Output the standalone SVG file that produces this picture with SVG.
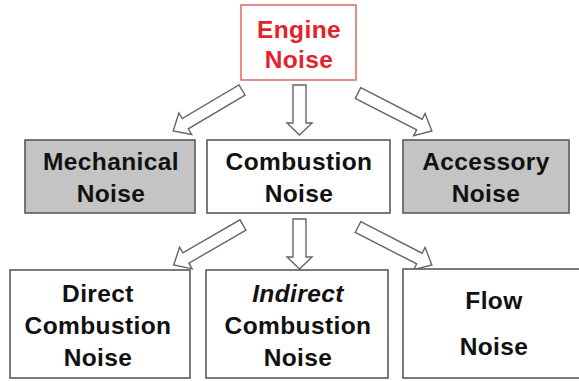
<svg xmlns="http://www.w3.org/2000/svg" width="579" height="381" viewBox="0 0 579 381">
<style>
.box{fill:#ffffff;stroke:#5a5a5a;stroke-width:1.6}
.gray{fill:#c4c4c4}
.t{font-family:"Liberation Sans",Arial,sans-serif;font-weight:bold;font-size:24.5px;fill:#111;text-anchor:middle;letter-spacing:0.4px}
.red{fill:#e3222b}
.arr{fill:#ffffff;stroke:#666;stroke-width:1.4;stroke-linejoin:miter}
</style>
<defs>
<polygon id="a80" points="0,-6 66,-6 66,-12.5 80,0 66,12.5 66,6 0,6"/>
<polygon id="a83" points="0,-6 69,-6 69,-12.5 83,0 69,12.5 69,6 0,6"/>
<polygon id="a50" points="0,-6.5 38,-6.5 38,-12.5 50,0 38,12.5 38,6.5 0,6.5"/>
</defs>
<rect width="579" height="381" fill="#ffffff"/>
<g id="connectors">
<use href="#a80" class="arr" transform="translate(242,90) rotate(149.3)"/>
<use href="#a50" class="arr" transform="translate(299.5,85) rotate(90)"/>
<use href="#a83" class="arr" transform="translate(358,93) rotate(27.2)"/>
<use href="#a80" class="arr" transform="translate(243,225) rotate(150)"/>
<use href="#a50" class="arr" transform="translate(299.5,219) rotate(90)"/>
<use href="#a83" class="arr" transform="translate(358,227) rotate(27.2)"/>
</g>
<g id="engine">
<rect class="box" x="241" y="5" width="115" height="75" style="stroke:#e07070"/>
<text class="t red" x="299" y="38">Engine</text>
<text class="t red" x="299" y="68">Noise</text>
</g>
<g id="mechanical">
<rect class="box gray" x="25" y="140" width="170" height="73"/>
<text class="t" x="111" y="170">Mechanical</text>
<text class="t" x="111" y="202">Noise</text>
</g>
<g id="combustion">
<rect class="box" x="207" y="140" width="183" height="73"/>
<text class="t" x="299" y="170">Combustion</text>
<text class="t" x="299" y="202">Noise</text>
</g>
<g id="accessory">
<rect class="box gray" x="403" y="140" width="166" height="73"/>
<text class="t" x="486" y="170">Accessory</text>
<text class="t" x="486" y="202">Noise</text>
</g>
<g id="direct">
<rect class="box" x="10" y="270" width="180" height="108"/>
<text class="t" x="98" y="302">Direct</text>
<text class="t" x="98" y="334">Combustion</text>
<text class="t" x="98" y="366">Noise</text>
</g>
<g id="indirect">
<rect class="box" x="206" y="270" width="182" height="108"/>
<text class="t" x="298" y="302" font-style="italic">Indirect</text>
<text class="t" x="298" y="334">Combustion</text>
<text class="t" x="298" y="366">Noise</text>
</g>
<g id="flow">
<rect class="box" x="403" y="269" width="185" height="109"/>
<text class="t" x="494" y="309">Flow</text>
<text class="t" x="494" y="355">Noise</text>
</g>
</svg>
